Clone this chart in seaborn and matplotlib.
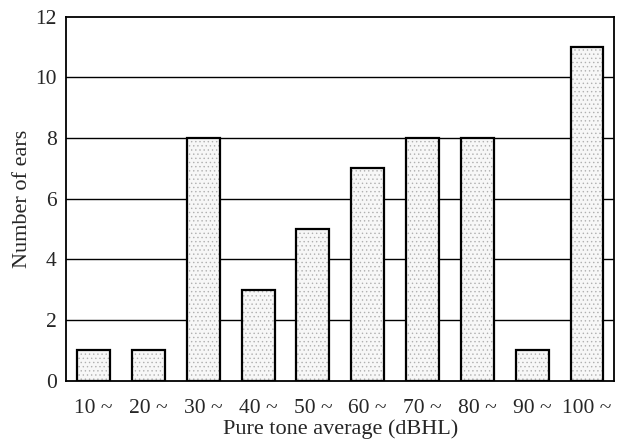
import matplotlib
matplotlib.use("Agg")
import matplotlib.pyplot as plt
import seaborn as sns
import pandas as pd
import numpy as np

categories = ["10 ~", "20 ~", "30 ~", "40 ~", "50 ~", "60 ~", "70 ~", "80 ~", "90 ~", "100 ~"]
ears = [1, 1, 8, 3, 5, 7, 8, 8, 1, 11]
y_ticks = [0, 2, 4, 6, 8, 10, 12]


def main():
    sns.set_style("white")
    plt.rcParams["font.family"] = ["Liberation Serif", "DejaVu Serif"]
    plt.rcParams["hatch.linewidth"] = 0.5

    df = pd.DataFrame({"range": categories, "ears": ears})

    fig, ax = plt.subplots(figsize=(6.25, 4.41), dpi=100)
    fig.subplots_adjust(left=0.106, right=0.983, top=0.962, bottom=0.137)

    for y in y_ticks[1:-1]:
        ax.axhline(y, color="black", linewidth=1.0, zorder=0)

    # stipple fill first (hatch takes the edge colour), then black outlines on top
    sns.barplot(data=df, x="range", y="ears", color="#f7f7f7", width=0.6,
                edgecolor="#b0b0b0", linewidth=0, hatch="....", ax=ax, zorder=2)
    sns.barplot(data=df, x="range", y="ears", width=0.6, fill=False,
                edgecolor="black", linewidth=1.6, ax=ax, zorder=3)

    ax.set_ylim(0, 12)
    ax.set_xlim(-0.5, len(categories) - 0.5)
    ax.set_yticks(y_ticks)
    ax.set_yticklabels([str(t) for t in y_ticks], fontsize=15.5)
    ax.tick_params(axis="y", length=0, pad=7)
    ax.set_xticks(range(len(categories)))
    ax.set_xticklabels(categories)
    ax.tick_params(axis="x", length=0, pad=13, labelsize=15.5)
    ax.set_xticks(np.arange(len(categories)) + 0.5, minor=True)
    ax.tick_params(axis="x", which="minor", direction="in", length=4, width=1.2, color="black")

    ax.set_xlabel("Pure tone average (dBHL)", fontsize=16, labelpad=1)
    ax.set_ylabel("Number of ears", fontsize=16, labelpad=2.5)

    for s in ax.spines.values():
        s.set_visible(True)
        s.set_color("black")
        s.set_linewidth(1.3)

    plt.savefig("out.png", dpi=100)


if __name__ == '__main__':
    main()
